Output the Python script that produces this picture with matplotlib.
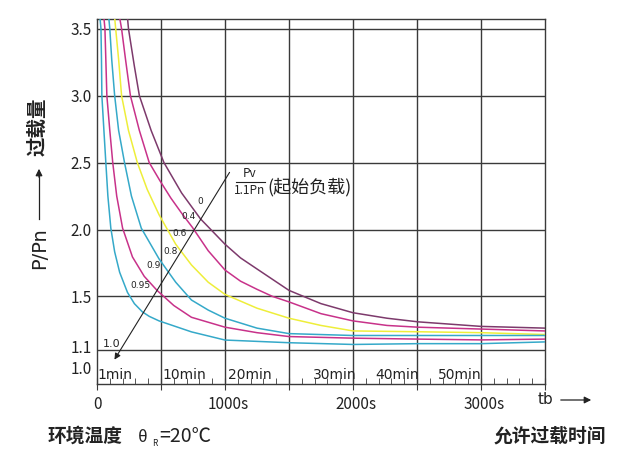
import matplotlib
matplotlib.use("Agg")
import matplotlib.pyplot as plt
import matplotlib.transforms as mtransforms

plt.rcParams['font.family'] = ['Noto Sans CJK SC', 'DejaVu Sans']

W, H = 621, 466

# allowed overload time tb (s) vs P/Pn, one curve per start load Pv/1.1Pn
t_0 = [238, 246, 292, 331, 423, 523, 661, 808, 1000, 1121, 1250, 1500, 1750, 2000, 2266, 2508, 3000, 3500]
p_0 = [3.583, 3.50, 3.22, 3.00, 2.74, 2.50, 2.273, 2.08, 1.89, 1.788, 1.705, 1.545, 1.446, 1.378, 1.337,
       1.31, 1.276, 1.263]

t_04 = [177, 192, 223, 261, 331, 408, 492, 577, 662, 746, 869, 1000, 1121, 1250, 1371, 1500, 1750, 2000,
        2266, 2508, 3000, 3500]
p_04 = [3.583, 3.50, 3.27, 3.00, 2.74, 2.50, 2.364, 2.235, 2.121, 2.015, 1.841, 1.697, 1.614, 1.553, 1.50,
        1.459, 1.371, 1.317, 1.283, 1.27, 1.256, 1.242]

t_06 = [138, 146, 169, 192, 246, 315, 392, 485, 615, 738, 869, 1000, 1250, 1500, 1750, 2000, 2508, 3000, 3500]
p_06 = [3.583, 3.50, 3.27, 3.00, 2.74, 2.50, 2.30, 2.11, 1.89, 1.735, 1.606, 1.515, 1.412, 1.337, 1.283,
        1.242, 1.236, 1.229, 1.215]

t_08 = [92, 100, 115, 138, 169, 215, 269, 346, 485, 615, 738, 869, 1000, 1250, 1500, 2000, 2508, 3000, 3500]
p_08 = [3.583, 3.50, 3.27, 3.00, 2.74, 2.50, 2.25, 2.01, 1.78, 1.606, 1.473, 1.398, 1.337, 1.263, 1.222,
        1.208, 1.208, 1.208, 1.208]

t_09 = [54, 62, 69, 77, 100, 123, 154, 200, 277, 369, 469, 600, 738, 1000, 1250, 1500, 2000, 2508, 3000, 3500]
p_09 = [3.583, 3.50, 3.27, 3.00, 2.74, 2.50, 2.25, 2.01, 1.795, 1.65, 1.545, 1.432, 1.344, 1.27, 1.229,
        1.20, 1.188, 1.181, 1.175, 1.181]

t_095 = [23, 31, 35, 38, 54, 69, 85, 108, 138, 177, 238, 292, 354, 408, 485, 738, 1000, 1500, 2000, 2508,
         3000, 3500]
p_095 = [3.583, 3.50, 3.27, 3.00, 2.74, 2.50, 2.25, 2.01, 1.833, 1.68, 1.53, 1.446, 1.385, 1.351, 1.317,
         1.235, 1.174, 1.154, 1.141, 1.147, 1.147, 1.16]

curves = [
    (t_0, p_0, '#7d3a6c'),
    (t_04, p_04, '#c8328a'),
    (t_06, p_06, '#eeee3a'),
    (t_08, p_08, '#35a9c9'),
    (t_09, p_09, '#c8328a'),
    (t_095, p_095, '#35a9c9'),
]

grid_y = [1.1, 1.5, 2.0, 2.5, 3.0, 3.5]
grid_x = [500, 1000, 1500, 2000, 2500, 3000]
ytick_vals = [1.0, 1.1, 1.5, 2.0, 2.5, 3.0, 3.5]
ytick_text = ['1.0', '1.1', '1.5', '2.0', '2.5', '3.0', '3.5']
xtick_vals = [0, 500, 1000, 1500, 2000, 2500, 3000, 3500]
xtick_text = ['0', '', '1000s', '', '2000s', '', '3000s', '']
minute_text = ['1min', '10min', '20min', '30min', '40min', '50min']
load_text = ['0', '0.4', '0.6', '0.8', '0.9', '0.95', '1.0']


def fp(x, y):
    return x / W, 1 - y / H


fig = plt.figure(figsize=(W / 100, H / 100), dpi=100)
ax = fig.add_axes([97 / W, 1 - 384 / H, 448 / W, 365 / H])
ax.set_xlim(0, 3500)
ax.set_ylim(0.8455, 3.573)

gc = '#3a3a3a'
for g in grid_y:
    ax.axhline(g, color=gc, lw=1.0, zorder=1)
for g in grid_x:
    ax.axvline(g, color=gc, lw=1.0, zorder=1)

for t, p, c in curves:
    ax.plot(t, p, color=c, lw=1.1, zorder=3, solid_joinstyle='round')

for s in ax.spines.values():
    s.set_color(gc)
    s.set_linewidth(1.0)

ax.set_yticks(ytick_vals)
ax.set_yticklabels(ytick_text, fontsize=11, color='#222')
ax.tick_params(axis='y', length=0, pad=4)
for lab, dy in zip(ax.get_yticklabels()[:2], [-4, 3]):
    lab.set_transform(lab.get_transform() + mtransforms.ScaledTranslation(0, dy / 100, fig.dpi_scale_trans))

ax.set_xticks(xtick_vals)
ax.set_xticklabels(xtick_text, fontsize=11, color='#222')
ax.set_xticks(range(100, 3500, 100), minor=True)
ax.tick_params(axis='x', which='major', direction='inout', length=9, color=gc, pad=4)
ax.tick_params(axis='x', which='minor', direction='in', length=4, color=gc)
for lab in ax.get_xticklabels()[1:]:
    lab.set_transform(lab.get_transform() + mtransforms.ScaledTranslation(3 / 100, 0, fig.dpi_scale_trans))

# minute labels inside the plot
mins_left = [(97, minute_text[0]), (162, minute_text[1]), (228, minute_text[2])]
mins_right = [(357, minute_text[3]), (419, minute_text[4]), (482, minute_text[5])]
for x, s in mins_left:
    fig.text(*fp(x, 375), s, fontsize=10, ha='left', va='center', color='#222', family='DejaVu Sans')
for x, s in mins_right:
    fig.text(*fp(x, 375), s, fontsize=10, ha='right', va='center', color='#222', family='DejaVu Sans')

# start load arrow and labels
ax.annotate('', xy=fp(113, 362), xytext=fp(231, 170), xycoords='figure fraction',
            textcoords='figure fraction',
            arrowprops=dict(arrowstyle='-|>', color='#222', lw=0.8, mutation_scale=9))
label_pos = [(200, 202), (189, 216), (180, 233), (171, 251), (154, 265), (140, 286), (112, 344)]
for (x, y), s in zip(label_pos, load_text):
    fig.text(*fp(x, y), s, fontsize=8 if s == '1.0' else 6.5, ha='center', va='center',
             color='#222', family='DejaVu Sans')

fig.text(*fp(250, 173), 'Pv', fontsize=8.5, ha='center', va='center', color='#222')
fig.add_artist(plt.Line2D([236 / W, 265 / W], [1 - 182 / H, 1 - 182 / H], color='#222', lw=0.8))
fig.text(*fp(250, 191), '1.1Pn', fontsize=8.5, ha='center', va='center', color='#222')
fig.text(*fp(267, 187), '(起始负载)', fontsize=13, ha='left', va='center', color='#222')

# y axis title
fig.text(*fp(40, 248), 'P/Pn', fontsize=14, rotation=90, ha='center', va='center', color='#222',
         family='DejaVu Sans')
fig.add_artist(plt.Line2D([39 / W, 39 / W], [1 - 219 / H, 1 - 175 / H], color='#222', lw=0.9))
ax.annotate('', xy=fp(39, 166), xytext=fp(39, 180), xycoords='figure fraction', textcoords='figure fraction',
            arrowprops=dict(arrowstyle='-|>', color='#222', lw=0.9, mutation_scale=10))
fig.text(*fp(38, 127), '过载量', fontsize=14, rotation=90, ha='center', va='center', color='#222',
         fontweight='bold')

# x axis title
fig.text(*fp(545, 400), 'tb', fontsize=11, ha='center', va='center', color='#222', family='DejaVu Sans')
ax.annotate('', xy=fp(594, 400), xytext=fp(558, 400), xycoords='figure fraction', textcoords='figure fraction',
            arrowprops=dict(arrowstyle='-|>', color='#222', lw=0.9, mutation_scale=10))

fig.text(*fp(48, 436), '环境温度', fontsize=13.5, ha='left', va='center', color='#222', fontweight='bold')
fig.text(*fp(138, 437), 'θ', fontsize=12, ha='left', va='center', color='#222')
fig.text(*fp(152, 443), 'R', fontsize=6, ha='left', va='center', color='#222')
fig.text(*fp(159, 437), '=20℃', fontsize=14, ha='left', va='center', color='#222')
fig.text(*fp(606, 436), '允许过载时间', fontsize=13.5, ha='right', va='center', color='#222', fontweight='bold')

fig.savefig('out.png', dpi=100, facecolor='white')
